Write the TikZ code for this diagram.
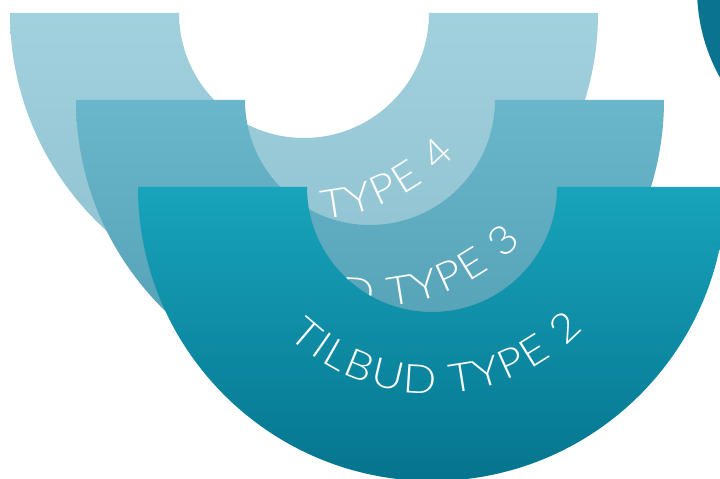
\documentclass[tikz,border=0pt]{standalone}
\usepackage{fontspec}
\newfontfamily\ringfont{Lato}[UprightFont=* Light, FakeStretch=1.1]
\definecolor{RingOneColor}{RGB}{10,116,144}
\definecolor{RingFourTop}{RGB}{162,209,222}
\definecolor{RingFourBottom}{RGB}{142,192,207}
\definecolor{RingThreeTop}{RGB}{106,182,202}
\definecolor{RingThreeBottom}{RGB}{80,157,178}
\definecolor{RingTwoTop}{RGB}{24,164,188}
\definecolor{RingTwoBottom}{RGB}{5,116,142}
\usetikzlibrary{decorations.text}
\tikzset{
    ring/.style={draw=none},
    ringone/.style={ring, fill=RingOneColor},
    ringfour/.style={ring, top color=RingFourTop, bottom color=RingFourBottom},
    ringthree/.style={ring, top color=RingThreeTop, bottom color=RingThreeBottom},
    ringtwo/.style={ring, top color=RingTwoTop, bottom color=RingTwoBottom},
    ringlabel/.style={
        decorate,
        decoration={
            text along path,
            text align={fit to path},
            text={|\ringfont\fontsize{40}{44}\selectfont\color{white}|#1}
        }
    }
}

\begin{document}
\begin{tikzpicture}[x=1pt, y=1pt]
    \useasboundingbox (0,0) rectangle (720,479);
    \fill[white] (0,0) rectangle (720,479);
    \clip (0,0) rectangle (720,479);

    % Centres
    \coordinate (c1) at (879,490);
    \coordinate (c4) at (304,466);
    \coordinate (c3) at (370,379);
    \coordinate (c2) at (432,292);

    % Rings, back to front
    \fill[ringone] (c1) circle[radius=182];

    \shade[ringfour] (c4) ++(-294,0) arc[start angle=180, end angle=360, radius=294]
        -- ++(-169,0) arc[start angle=0, end angle=-180, radius=125] -- cycle;
    \path[ringlabel={TILBUD TYPE 4}] (c4) ++(226:207) arc[start angle=226, end angle=317, radius=207];

    \shade[ringthree] (c3) ++(-294,0) arc[start angle=180, end angle=360, radius=294]
        -- ++(-169,0) arc[start angle=0, end angle=-180, radius=125] -- cycle;
    \path[ringlabel={TILBUD TYPE 3}] (c3) ++(226:207) arc[start angle=226, end angle=317, radius=207];

    \shade[ringtwo] (c2) ++(-294,0) arc[start angle=180, end angle=360, radius=294]
        -- ++(-169,0) arc[start angle=0, end angle=-180, radius=125] -- cycle;
    \path[ringlabel={TILBUD TYPE 2}] (c2) ++(226:207) arc[start angle=226, end angle=317, radius=207];
\end{tikzpicture}
\end{document}
